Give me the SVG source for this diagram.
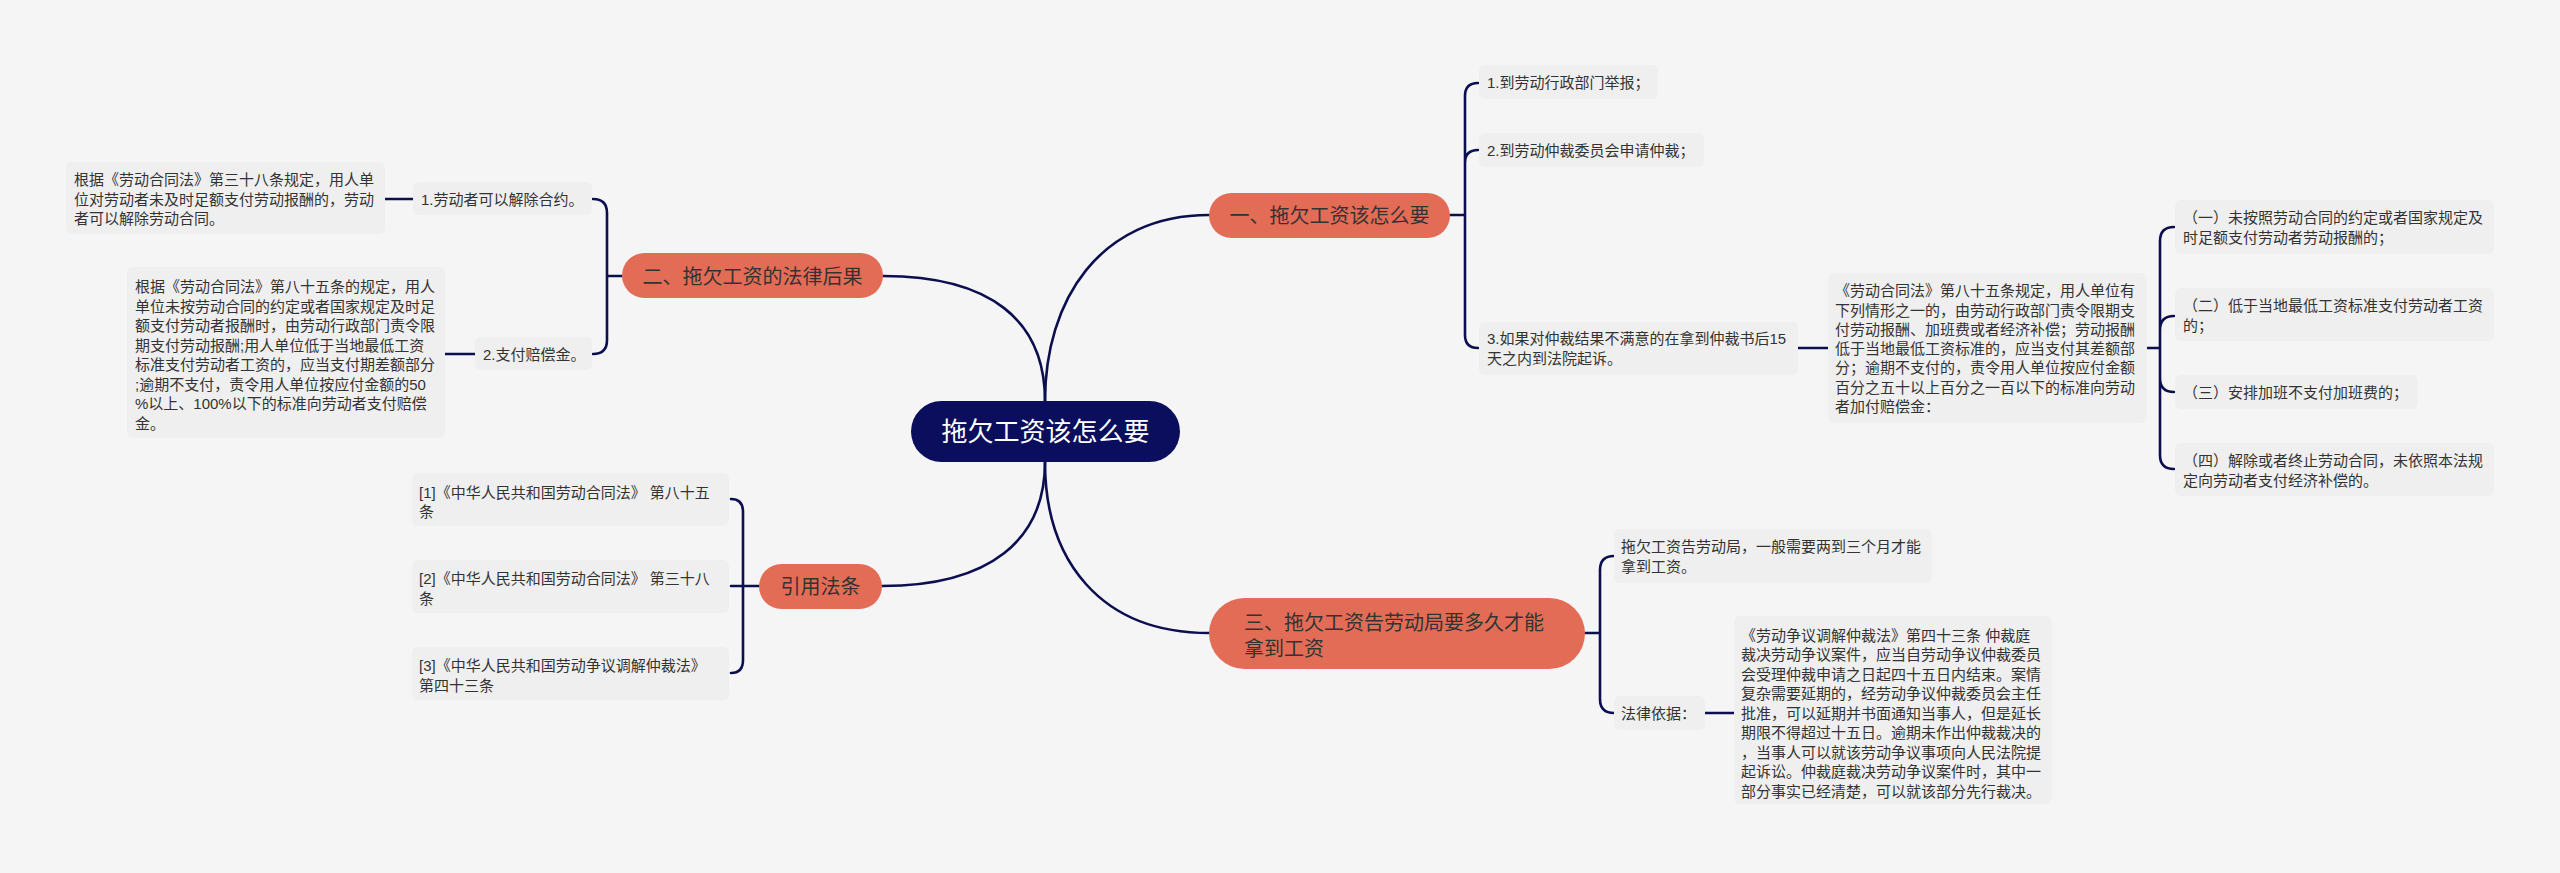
<svg xmlns="http://www.w3.org/2000/svg" width="2560" height="873" viewBox="0 0 2560 873">
<style>
.bg{fill:#f5f5f5}
.box{fill:#efefef}
.br{fill:#e36c56}
.ln{fill:none;stroke:#0c0f4f;stroke-width:2.6;stroke-linecap:round}
text{font-family:"Liberation Sans","Noto Sans CJK SC",sans-serif;fill:#333333}
.s{font-size:15px}
.m{font-size:20px}
.c{font-size:26px;fill:#ffffff}
</style>
<rect class="bg" x="0" y="0" width="2560" height="873"/>
<g id="connectors">
<path class="ln" d="M1045,401 C1045,300 1100,215 1209,215"/>
<path class="ln" d="M1045,462 C1045,560 1100,633 1209,633"/>
<path class="ln" d="M1045,401 C1045,320 990,276 883,276"/>
<path class="ln" d="M1045,462 C1045,540 990,586 882,586"/>
<path class="ln" d="M1450,215 L1465,215 M1478,83 Q1465,83 1465,96 L1465,335 Q1465,348 1478,348 M1465,163 Q1465,150 1478,150"/>
<path class="ln" d="M1798,348 L1828,348"/>
<path class="ln" d="M2147,348 L2160,348 M2174,227 Q2160,227 2160,241 L2160,455 Q2160,469 2174,469 M2160,330 Q2160,316 2174,316 M2160,378 Q2160,392 2174,392"/>
<path class="ln" d="M1585,633 L1600,633 M1614,556 Q1600,556 1600,570 L1600,699 Q1600,713 1614,713"/>
<path class="ln" d="M1705,713 L1734,713"/>
<path class="ln" d="M622,276 L607,276 M593,199 Q607,199 607,213 L607,340 Q607,354 593,354"/>
<path class="ln" d="M413,199 L385,199"/>
<path class="ln" d="M475,354 L445,354"/>
<path class="ln" d="M759,586 L731,586 M731,499 Q743,499 743,512 L743,660 Q743,673 731,673"/>
</g>
<g id="root">
<rect x="911" y="401" width="269" height="61" rx="30.5" fill="#0a0e5c"/>
<text class="c" x="1045.5" y="441" text-anchor="middle">拖欠工资该怎么要</text>
</g>
<g id="b1">
<rect class="br" x="1209" y="193" width="241" height="45" rx="22.5"/>
<text class="m" x="1329.5" y="222.6" text-anchor="middle">一、拖欠工资该怎么要</text>
</g>
<g id="b2">
<rect class="br" x="622" y="253" width="261" height="45" rx="22.5"/>
<text class="m" x="752.5" y="283.6" text-anchor="middle">二、拖欠工资的法律后果</text>
</g>
<g id="b3">
<rect class="br" x="1209" y="598" width="376" height="71" rx="35.5"/>
<text class="m" x="1244" y="629.6">三、拖欠工资告劳动局要多久才能</text>
<text class="m" x="1244" y="655.6">拿到工资</text>
</g>
<g id="b4">
<rect class="br" x="759" y="564" width="123" height="45" rx="22.5"/>
<text class="m" x="820.5" y="594" text-anchor="middle">引用法条</text>
</g>
<g id="a1">
<rect class="box" x="413" y="182" width="179" height="33" rx="6"/>
<text class="s" x="421" y="204.7">1.劳动者可以解除合约。</text>
</g>
<g id="a1a">
<rect class="box" x="66" y="162" width="319" height="72" rx="6"/>
<text class="s" x="74" y="185.2">根据《劳动合同法》第三十八条规定，用人单</text>
<text class="s" x="74" y="204.7">位对劳动者未及时足额支付劳动报酬的，劳动</text>
<text class="s" x="74" y="224.2">者可以解除劳动合同。</text>
</g>
<g id="a2">
<rect class="box" x="475" y="337" width="117" height="33" rx="6"/>
<text class="s" x="483" y="359.7">2.支付赔偿金。</text>
</g>
<g id="a2a">
<rect class="box" x="127" y="267" width="318" height="171" rx="6"/>
<text class="s" x="135" y="292.4">根据《劳动合同法》第八十五条的规定，用人</text>
<text class="s" x="135" y="311.9">单位未按劳动合同的约定或者国家规定及时足</text>
<text class="s" x="135" y="331.4">额支付劳动者报酬时，由劳动行政部门责令限</text>
<text class="s" x="135" y="350.9">期支付劳动报酬;用人单位低于当地最低工资</text>
<text class="s" x="135" y="370.4">标准支付劳动者工资的，应当支付期差额部分</text>
<text class="s" x="135" y="389.9">;逾期不支付，责令用人单位按应付金额的50</text>
<text class="s" x="135" y="409.4">%以上、100%以下的标准向劳动者支付赔偿</text>
<text class="s" x="135" y="428.9">金。</text>
</g>
<g id="r1">
<rect class="box" x="412" y="473" width="317" height="53" rx="6"/>
<text class="s" x="419" y="497.7">[1]《中华人民共和国劳动合同法》 第八十五</text>
<text class="s" x="419" y="517.2">条</text>
</g>
<g id="r2">
<rect class="box" x="412" y="560" width="317" height="53" rx="6"/>
<text class="s" x="419" y="584.2">[2]《中华人民共和国劳动合同法》 第三十八</text>
<text class="s" x="419" y="603.7">条</text>
</g>
<g id="r3">
<rect class="box" x="412" y="647" width="317" height="53" rx="6"/>
<text class="s" x="419" y="671.2">[3]《中华人民共和国劳动争议调解仲裁法》</text>
<text class="s" x="419" y="690.7">第四十三条</text>
</g>
<g id="c1">
<rect class="box" x="1479" y="65" width="179" height="34" rx="6"/>
<text class="s" x="1487" y="87.7">1.到劳动行政部门举报；</text>
</g>
<g id="c2">
<rect class="box" x="1479" y="133" width="225" height="34" rx="6"/>
<text class="s" x="1487" y="155.7">2.到劳动仲裁委员会申请仲裁；</text>
</g>
<g id="c3">
<rect class="box" x="1479" y="322" width="319" height="53" rx="6"/>
<text class="s" x="1487" y="344.2">3.如果对仲裁结果不满意的在拿到仲裁书后15</text>
<text class="s" x="1487" y="363.7">天之内到法院起诉。</text>
</g>
<g id="c3a">
<rect class="box" x="1828" y="273" width="319" height="150" rx="6"/>
<text class="s" x="1835" y="296.2">《劳动合同法》第八十五条规定，用人单位有</text>
<text class="s" x="1835" y="315.5">下列情形之一的，由劳动行政部门责令限期支</text>
<text class="s" x="1835" y="334.8">付劳动报酬、加班费或者经济补偿；劳动报酬</text>
<text class="s" x="1835" y="354.1">低于当地最低工资标准的，应当支付其差额部</text>
<text class="s" x="1835" y="373.4">分；逾期不支付的，责令用人单位按应付金额</text>
<text class="s" x="1835" y="392.7">百分之五十以上百分之一百以下的标准向劳动</text>
<text class="s" x="1835" y="412">者加付赔偿金：</text>
</g>
<g id="d1">
<rect class="box" x="2175" y="200" width="319" height="54" rx="6"/>
<text class="s" x="2183" y="223.2">（一）未按照劳动合同的约定或者国家规定及</text>
<text class="s" x="2183" y="242.7">时足额支付劳动者劳动报酬的；</text>
</g>
<g id="d2">
<rect class="box" x="2175" y="288" width="319" height="53" rx="6"/>
<text class="s" x="2183" y="311.2">（二）低于当地最低工资标准支付劳动者工资</text>
<text class="s" x="2183" y="330.7">的；</text>
</g>
<g id="d3">
<rect class="box" x="2175" y="375" width="243" height="34" rx="6"/>
<text class="s" x="2183" y="397.7">（三）安排加班不支付加班费的；</text>
</g>
<g id="d4">
<rect class="box" x="2175" y="443" width="319" height="53" rx="6"/>
<text class="s" x="2183" y="466.2">（四）解除或者终止劳动合同，未依照本法规</text>
<text class="s" x="2183" y="485.7">定向劳动者支付经济补偿的。</text>
</g>
<g id="e1">
<rect class="box" x="1614" y="529" width="318" height="54" rx="6"/>
<text class="s" x="1621" y="552.2">拖欠工资告劳动局，一般需要两到三个月才能</text>
<text class="s" x="1621" y="571.7">拿到工资。</text>
</g>
<g id="e2">
<rect class="box" x="1614" y="696" width="91" height="34" rx="6"/>
<text class="s" x="1621" y="718.7">法律依据：</text>
</g>
<g id="e2a">
<rect class="box" x="1734" y="616" width="318" height="188" rx="6"/>
<text class="s" x="1741" y="640.7">《劳动争议调解仲裁法》第四十三条 仲裁庭</text>
<text class="s" x="1741" y="660.2">裁决劳动争议案件，应当自劳动争议仲裁委员</text>
<text class="s" x="1741" y="679.7">会受理仲裁申请之日起四十五日内结束。案情</text>
<text class="s" x="1741" y="699.2">复杂需要延期的，经劳动争议仲裁委员会主任</text>
<text class="s" x="1741" y="718.7">批准，可以延期并书面通知当事人，但是延长</text>
<text class="s" x="1741" y="738.2">期限不得超过十五日。逾期未作出仲裁裁决的</text>
<text class="s" x="1741" y="757.7">，当事人可以就该劳动争议事项向人民法院提</text>
<text class="s" x="1741" y="777.2">起诉讼。仲裁庭裁决劳动争议案件时，其中一</text>
<text class="s" x="1741" y="796.7">部分事实已经清楚，可以就该部分先行裁决。</text>
</g>
</svg>
